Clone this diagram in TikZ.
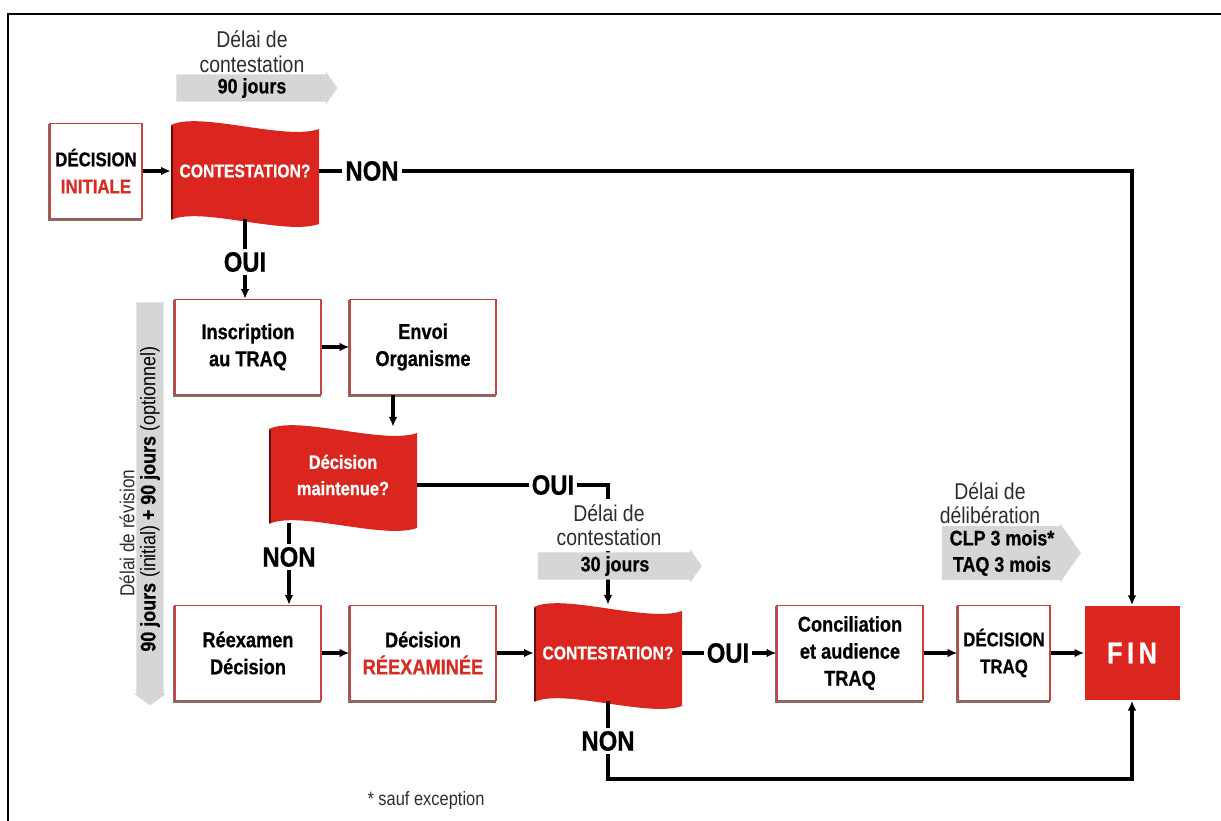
\documentclass[tikz,border=0pt]{standalone}
\usepackage{fontspec}
\setmainfont{Liberation Sans}[FakeStretch=0.85, BoldFeatures={FakeBold=0.6}]
\usetikzlibrary{shapes.arrows, arrows.meta}
\definecolor{flagred}{RGB}{218,38,30}
\definecolor{flagdark}{RGB}{95,15,12}
\definecolor{boxred}{RGB}{200,70,64}
\definecolor{redtext}{RGB}{214,44,36}
\definecolor{bandgrey}{RGB}{214,214,214}
\definecolor{textgrey}{RGB}{45,45,45}

\begin{document}
\begin{tikzpicture}[x=0.02cm, y=-0.02cm,
  box/.style={draw=boxred, line width=0.9pt, fill=white, minimum width=2.92cm,
    minimum height=1.9cm, inner sep=1pt, align=center,
    preaction={draw=black!55, line width=0.9pt,
      transform canvas={shift={(-0.7pt,-0.7pt)}}},
    font=\fontsize{12.2}{15.4}\selectfont\bfseries},
  squarebox/.style={box, minimum width=1.84cm,
    font=\fontsize{11.3}{15.4}\selectfont\bfseries},
  flagtext/.style={minimum width=2.96cm, minimum height=1.92cm, inner sep=0pt,
    align=center, text=white, font=\fontsize{11}{15}\selectfont\bfseries},
  flagshape/.pic={
    \fill[flagred] (-74,-46) .. controls (-45,-60) and (40,-30) .. (74,-42)
      -- (74,53) .. controls (40,65) and (-45,35) .. (-74,49) -- cycle;
    \draw[flagdark, line width=1.5pt] (-73,-45) -- (-73,48);
  },
  answer/.style={inner sep=1.5pt, font=\fontsize{16}{18}\selectfont\bfseries},
  link/.style={line width=1.9pt},
  arr/.style={link, -{Latex[length=5.5pt, width=5pt]}},
  band/.style={single arrow, fill=bandgrey, single arrow head extend=0.06cm,
    single arrow head indent=0pt, single arrow tip angle=110, inner ysep=2pt,
    align=center, font=\fontsize{12}{15}\selectfont\bfseries},
  delay/.style={align=center, text=textgrey, inner sep=1pt,
    font=\fontsize{13}{14}\selectfont},
]
\useasboundingbox (0,0) rectangle (1221,821);
\draw[line width=1.7pt] (8,830) -- (8,14) -- (1230,14);

% first question
\node[squarebox] (init) at (96,171) {DÉCISION\\\textcolor{redtext}{INITIALE}};
\pic at (245,171) {flagshape};
\node[flagtext, font=\fontsize{10.5}{15}\selectfont\bfseries] (contA) at (245,171) {CONTESTATION?};
\node[answer] (nonA) at (372,171) {NON};
\node[answer] (ouiA) at (245,262) {OUI};
\node[delay] (delA) at (252,52) {Délai de\\contestation};
\node[band, minimum height=3.22cm] (bandA) at (252,88) {90 jours};

% revision
\node[box] (insc) at (248,347) {Inscription\\au TRAQ};
\node[box] (envoi) at (423,347) {Envoi\\Organisme};
\pic at (343,475) {flagshape};
\node[flagtext] (contB) at (343,475) {Décision\\maintenue?};
\node[answer] (ouiB) at (553,485) {OUI};
\node[answer] (nonB) at (289,557) {NON};

% last row
\node[box] (reex) at (248,653) {Réexamen\\Décision};
\node[box] (decrex) at (423,653) {Décision\\\textcolor{redtext}{RÉEXAMINÉE}};
\pic at (608,653) {flagshape};
\node[flagtext, font=\fontsize{10.5}{15}\selectfont\bfseries] (contC) at (608,653) {CONTESTATION?};
\node[answer] (ouiC) at (728,653) {OUI};
\node[box] (concil) at (850,653) {Conciliation\\et audience\\TRAQ};
\node[squarebox] (dectraq) at (1004,653) {DÉCISION\\TRAQ};
\node[fill=flagred, minimum size=1.9cm, text=white,
  font=\fontsize{17}{20}\selectfont\bfseries\addfontfeatures{LetterSpace=15}] (fin) at (1132,653) {FIN};
\node[answer] (nonC) at (608,741) {NON};
\coordinate (finlow) at (1132,779);

\draw[arr] (init) -- (contA);
\draw[link] (contA) -- (nonA);
\draw[arr] (nonA) -| (fin);
\draw[link] (contA) -- (ouiA);
\draw[arr] (ouiA) -- (ouiA |- insc.north);
\draw[arr] (insc) -- (envoi);
\draw[arr] ([xshift=-0.6cm]envoi.south) -- ([xshift=-0.6cm]envoi.south |- contB.north);
\draw[link] (contB.east |- ouiB) -- (ouiB);
\draw[arr] (ouiB) -| (contC);
\draw[link] (contB.south -| nonB) -- (nonB);
\draw[arr] (nonB) -- (nonB |- reex.north);
\draw[arr] (reex) -- (decrex);
\draw[arr] (decrex) -- (contC);
\draw[link] (contC) -- (ouiC);
\draw[arr] (ouiC) -- (concil);
\draw[arr] (concil) -- (dectraq);
\draw[arr] (dectraq) -- (fin);
\draw[link] (contC) -- (nonC);
\draw[arr] (nonC) |- (finlow) -- (fin);

% delays
\node[delay, fill=white, inner sep=3pt] (delC) at (609,525) {Délai de\\contestation};
\node[band, minimum height=3.28cm] (bandC) at (615,566) {30 jours};
\node[delay] (delD) at (990,503) {Délai de\\délibération};
\node[band, minimum height=2.78cm] (bandD) at (1002,553) {CLP 3 mois*\\TAQ 3 mois};
\node[band, rotate=90, shape border rotate=180, minimum height=8.06cm] (bandR) at (150,499)
  {90 jours \textmd{(initial)} + 90 jours \textmd{(optionnel)}};
\node[delay, rotate=90, font=\fontsize{11.5}{13}\selectfont] (delR) at (127,533) {Délai de révision};
\node[text=textgrey, font=\fontsize{11}{13}\selectfont] (note) at (426,800) {* sauf exception};
\end{tikzpicture}
\end{document}
